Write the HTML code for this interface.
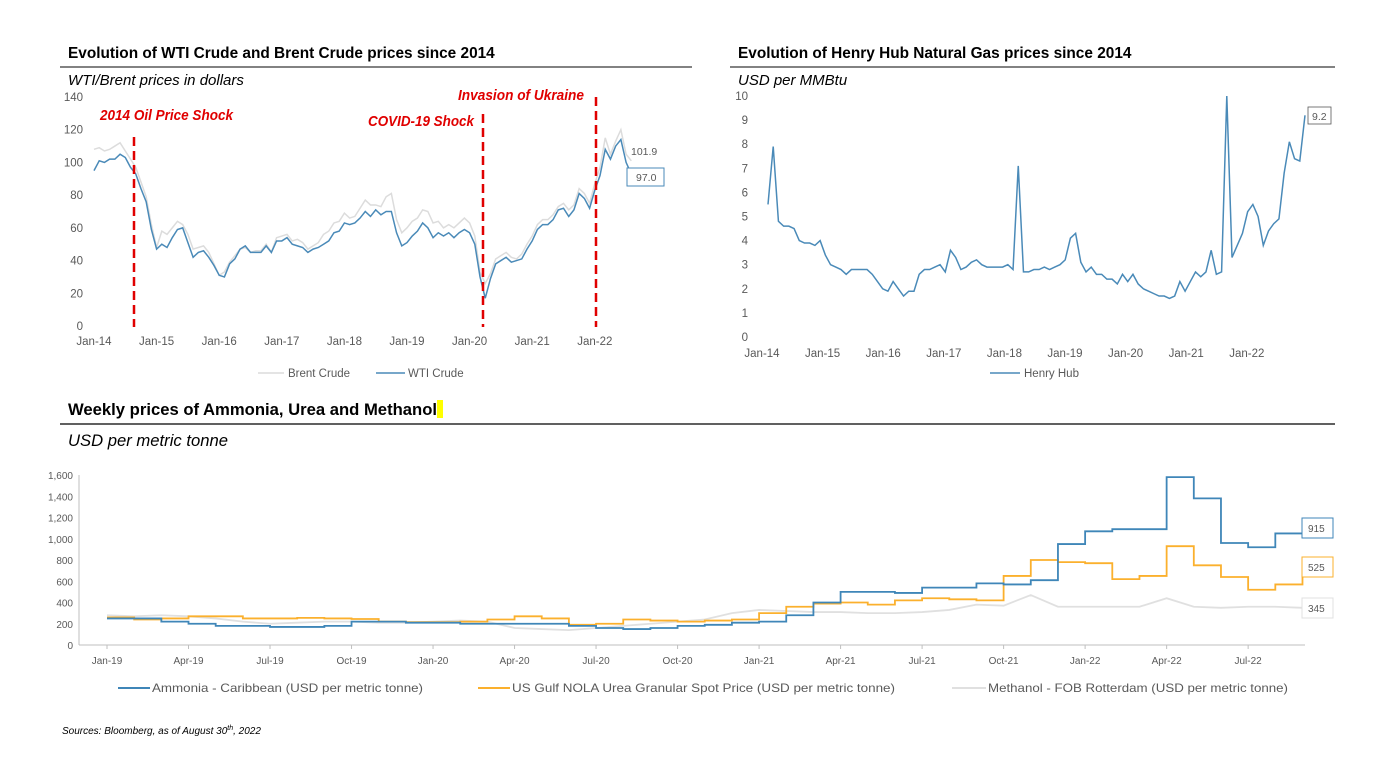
<!DOCTYPE html>
<html><head><meta charset="utf-8"><style>
body{margin:0;background:#fff;}
svg{display:block;font-family:"Liberation Sans",Arial,sans-serif;}
.tick{font-size:11.5px;fill:#595959;}
.tick3{font-size:10px;fill:#595959;}
.title{font-size:15.4px;font-weight:bold;fill:#000;}
.sub{font-size:15px;font-style:italic;fill:#000;}
.ann{font-family:"Liberation Sans Narrow","Liberation Sans",sans-serif;font-weight:bold;font-style:italic;font-size:15px;fill:#e00000;}
.leg{font-size:11.5px;fill:#595959;}
.leg3{font-size:12px;fill:#595959;}
</style></head><body>
<svg id="page" width="1381" height="770" viewBox="0 0 1381 770">
<text class="title" x="68" y="58">Evolution of WTI Crude and Brent Crude prices since 2014</text>
<line x1="60" y1="67" x2="692" y2="67" stroke="#595959" stroke-width="1.5"/>
<text class="sub" x="68" y="85">WTI/Brent prices in dollars</text>
<text class="title" x="738" y="58">Evolution of Henry Hub Natural Gas prices since 2014</text>
<line x1="730" y1="67" x2="1335" y2="67" stroke="#595959" stroke-width="1.5"/>
<text class="sub" x="738" y="85">USD per MMBtu</text>
<rect x="437" y="400" width="6" height="18" fill="#ffff00"/>
<text class="title" x="68" y="415" textLength="369" lengthAdjust="spacingAndGlyphs" style="font-size:16.5px">Weekly prices of Ammonia, Urea and Methanol</text>
<line x1="60" y1="424" x2="1335" y2="424" stroke="#000" stroke-width="1.2"/>
<text class="sub" x="68" y="446" textLength="160" lengthAdjust="spacingAndGlyphs" style="font-size:16.5px">USD per metric tonne</text>
<text x="62" y="734" style="font-size:10px;font-style:italic;fill:#000">Sources: Bloomberg, as of August 30<tspan dy="-4" font-size="7">th</tspan><tspan dy="4">, 2022</tspan></text>
<g id="g1"></g><g id="g2"></g><g id="g3"></g>
</svg>
<script>
const wtiVals=[95,101,100,102,102,105,103,97,93,84,76,59,
47,50,48,54,59,60,51,42,45,46,42,37,
31,30,38,41,47,49,45,45,45,49,45,52,
52,54,50,49,48,45,47,48,50,52,57,58,
63,62,63,66,70,67,71,68,70,70,57,49,
51,55,58,63,60,54,57,55,57,54,57,59,
57,50,30,17,29,38,40,42,39,40,41,47,
52,59,62,62,65,71,72,67,71,81,78,72,
83,92,108,102,110,114,100,93];
const brentVals=[108,109,107,108,110,112,107,102,97,88,79,62,
48,58,56,60,64,62,56,47,48,49,45,38,
31,33,39,43,47,48,45,46,46,50,45,54,
55,56,52,53,51,47,49,51,56,58,63,64,
69,66,67,72,77,74,74,73,79,81,65,57,
60,64,66,71,70,63,64,60,62,60,63,66,
63,55,33,26,32,41,43,45,42,41,44,50,
55,62,65,65,68,73,75,71,74,84,81,75,
87,97,115,105,113,120,105,101];
const oilTicks=[0,20,40,60,80,100,120,140];
const yearLabels=["Jan-14","Jan-15","Jan-16","Jan-17","Jan-18","Jan-19","Jan-20","Jan-21","Jan-22"];
const hhVals=[5.5,7.9,4.8,4.6,4.6,4.5,4,3.9,3.9,3.8,4,3.4,
3,2.9,2.8,2.6,2.8,2.8,2.8,2.8,2.6,2.3,2,1.9,
2.3,2,1.7,1.9,1.9,2.6,2.8,2.8,2.9,3,2.7,3.6,
3.3,2.8,2.9,3.1,3.2,3,2.9,2.9,2.9,2.9,3,2.8,
7.1,2.7,2.7,2.8,2.8,2.9,2.8,2.9,3,3.2,4.1,4.3,
3.1,2.7,2.9,2.6,2.6,2.4,2.4,2.2,2.6,2.3,2.6,2.2,
2,1.9,1.8,1.7,1.7,1.6,1.7,2.3,1.9,2.3,2.7,2.5,
2.7,3.6,2.6,2.7,10,3.3,3.8,4.3,5.2,5.5,5,3.8,
4.4,4.7,4.9,6.8,8.1,7.4,7.3,9.2];
const hhTicks=[0,1,2,3,4,5,6,7,8,9,10];
const ammoniaVals=[250,250,220,200,180,180,170,170,180,220,220,210,
210,200,200,200,200,180,160,150,160,180,190,210,
220,280,400,500,500,490,540,540,580,570,610,950,
1070,1090,1090,1580,1380,960,920,1050,1100];
const ureaVals=[260,240,250,270,270,250,250,255,250,245,220,215,
215,220,240,270,250,190,200,240,230,220,230,240,
300,360,390,400,380,420,440,430,420,650,800,780,
770,620,650,930,750,640,520,570,690];
const methanolVals=[280,270,280,270,250,220,200,210,220,220,210,210,
220,230,220,160,150,140,160,180,200,220,240,300,
330,320,310,310,300,300,310,330,380,370,470,360,
360,360,360,440,360,350,360,360,350];
const chemTicks=[0,200,400,600,800,1000,1200,1400,1600];
const quarterLabels=["Jan-19","Apr-19","Jul-19","Oct-19","Jan-20","Apr-20","Jul-20","Oct-20","Jan-21","Apr-21","Jul-21","Oct-21","Jan-22","Apr-22","Jul-22"];

const NS="http://www.w3.org/2000/svg";
function mk(tag,attrs,parent){const e=document.createElementNS(NS,tag);for(const k in attrs)e.setAttribute(k,attrs[k]);parent.appendChild(e);return e;}
function txt(s,attrs,parent){const e=mk('text',attrs,parent);e.textContent=s;return e;}
function pathFrom(vals,fx,fy,step){let d='';vals.forEach((v,i)=>{const x=fx(i),y=fy(v);if(i===0)d='M'+x+' '+y;else if(step)d+=' H'+x+' V'+y;else d+=' L'+x+' '+y;});return d;}

// chart 1
const g1=document.getElementById('g1');
const x1=m=>94+m*62.6/12, y1=v=>326-v*229/140;
oilTicks.forEach(t=>{const e=txt(t,{x:83,y:y1(t)+4,'text-anchor':'end',class:'tick'},g1);

});
yearLabels.forEach((l,i)=>{const e=txt(l,{x:x1(i*12),y:345,'text-anchor':'middle',class:'tick'},g1);

});
let p=mk('path',{d:pathFrom(brentVals,x1,y1),fill:'none',stroke:'#dcdcdc','stroke-width':1.5},g1);


p=mk('path',{d:pathFrom(wtiVals,x1,y1),fill:'none',stroke:'#4a8ab8','stroke-width':1.5},g1);


[[134,137],[483,114],[596,97]].forEach(a=>{const l=mk('line',{x1:a[0],x2:a[0],y1:a[1],y2:327,stroke:'#e00000','stroke-width':2.5,'stroke-dasharray':'9,5'},g1);

});
[["2014 Oil Price Shock",100,120,133],["COVID-19 Shock",368,126,106],["Invasion of Ukraine",458,100,126]].forEach(a=>{const e=txt(a[0],{x:a[1],y:a[2],textLength:a[3],lengthAdjust:'spacingAndGlyphs',class:'ann'},g1);

});
let e=txt('101.9',{x:631,y:155,class:'tick',style:'font-size:10.5px'},g1);


let r=mk('rect',{x:627,y:168,width:37,height:18,fill:'#fff',stroke:'#4a8ab8'},g1);


e=txt('97.0',{x:636,y:181,class:'tick',style:'font-size:10.5px'},g1);


mk('line',{x1:258,x2:284,y1:373,y2:373,stroke:'#dcdcdc','stroke-width':1.5},g1);
e=txt('Brent Crude',{x:288,y:377,class:'leg'},g1);


mk('line',{x1:376,x2:405,y1:373,y2:373,stroke:'#4a8ab8','stroke-width':1.5},g1);
e=txt('WTI Crude',{x:408,y:377,class:'leg'},g1);



// chart 2
const g2=document.getElementById('g2');
const x2=m=>768+m*(1305-768)/103, y2=v=>337-v*24.1;
hhTicks.forEach(t=>{const e=txt(t,{x:748,y:y2(t)+4,'text-anchor':'end',class:'tick'},g2);

});
yearLabels.forEach((l,i)=>{const e=txt(l,{x:762+i*60.6,y:357,'text-anchor':'middle',class:'tick'},g2);

});
p=mk('path',{d:pathFrom(hhVals,x2,y2),fill:'none',stroke:'#4a8ab8','stroke-width':1.5},g2);


r=mk('rect',{x:1308,y:107,width:23,height:17,fill:'#fff',stroke:'#595959','stroke-width':0.8},g2);


e=txt('9.2',{x:1312,y:120,class:'tick',style:'font-size:10.5px'},g2);


mk('line',{x1:990,x2:1020,y1:373,y2:373,stroke:'#4a8ab8','stroke-width':1.5},g2);
e=txt('Henry Hub',{x:1024,y:377,class:'leg'},g2);



// chart 3
const g3=document.getElementById('g3');
const x3=m=>107+m*27.17, y3=v=>645-v*170/1600;
mk('line',{x1:79,x2:79,y1:475,y2:645,stroke:'#bfbfbf'},g3);
mk('line',{x1:79,x2:1305,y1:645,y2:645,stroke:'#bfbfbf'},g3);
chemTicks.forEach(t=>{const e=txt(t.toLocaleString('en-US'),{x:73,y:y3(t)+4,'text-anchor':'end',class:'tick3'},g3);

});
quarterLabels.forEach((l,i)=>{mk('line',{x1:x3(i*3),x2:x3(i*3),y1:645,y2:649,stroke:'#bfbfbf'},g3);
const e=txt(l,{x:x3(i*3),y:664,'text-anchor':'middle',class:'tick3'},g3);

});
p=mk('path',{d:pathFrom(methanolVals,x3,y3),fill:'none',stroke:'#e0e0e0','stroke-width':1.8},g3);


p=mk('path',{d:pathFrom(ureaVals,x3,y3,true),fill:'none',stroke:'#fbb02d','stroke-width':1.8},g3);


p=mk('path',{d:pathFrom(ammoniaVals,x3,y3,true),fill:'none',stroke:'#3f86b8','stroke-width':1.8},g3);


[["915",518,'#3f86b8'],["525",557,'#fbb02d'],["345",598,'#e0e0e0']].forEach(a=>{const r=mk('rect',{x:1302,y:a[1],width:31,height:20,fill:'#fff',stroke:a[2]},g3);


const e=txt(a[0],{x:1308,y:a[1]+14,class:'tick3'},g3);

});
[[118,152,'#3f86b8','Ammonia - Caribbean (USD per metric tonne)','legend-ammonia',271],[478,512,'#fbb02d','US Gulf NOLA Urea Granular Spot Price (USD per metric tonne)','legend-urea',383],[952,988,'#e0e0e0','Methanol - FOB Rotterdam (USD per metric tonne)','legend-methanol',300]].forEach(a=>{mk('line',{x1:a[0],x2:a[1]-2,y1:688,y2:688,stroke:a[2],'stroke-width':2},g3);
const e=txt(a[3],{x:a[1],y:692,class:'leg3',textLength:a[5],lengthAdjust:'spacingAndGlyphs'},g3);

});
</script>
</body></html>
